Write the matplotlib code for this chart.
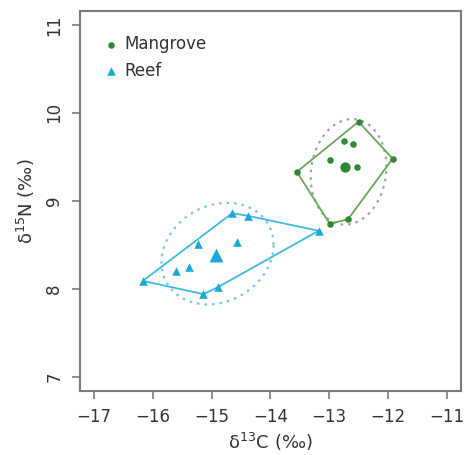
import numpy as np
import matplotlib.pyplot as plt

# isotope values
mangrove_c = [-13.55, -12.50, -11.92, -12.99, -12.68, -12.75, -12.60, -12.98, -12.53]
mangrove_n = [9.33, 9.90, 9.48, 8.74, 8.79, 9.68, 9.65, 9.47, 9.39]
reef_c = [-16.17, -14.65, -14.38, -13.18, -15.14, -14.89, -15.24, -14.56, -15.39, -15.60]
reef_n = [8.09, 8.86, 8.83, 8.66, 7.94, 8.02, 8.51, 8.53, 8.25, 8.20]

# ellipses: centre x, centre y, x half-width, y tilt part, y half-height part
mangrove_ell = [-12.67, 9.33, 0.644, 0.057, 0.598]
reef_ell = [-14.90, 8.40, 0.954, 0.10, 0.569]

col_m = "#2e8a2e"
col_m_line = "#6aa85c"
col_m_ell = "#98ad98"
col_r = "#19a9da"
col_r_line = "#3dbbe6"
col_r_ell = "#7fc8e2"


def hull(x, y):
    pts = sorted(zip(x, y))
    def cross(o, a, b):
        return (a[0]-o[0])*(b[1]-o[1]) - (a[1]-o[1])*(b[0]-o[0])
    lower, upper = [], []
    for p in pts:
        while len(lower) >= 2 and cross(lower[-2], lower[-1], p) <= 0:
            lower.pop()
        lower.append(p)
    for p in reversed(pts):
        while len(upper) >= 2 and cross(upper[-2], upper[-1], p) <= 0:
            upper.pop()
        upper.append(p)
    h = lower[:-1] + upper[:-1]
    h.append(h[0])
    return np.array(h)


def ellipse(e):
    t = np.linspace(0, 2*np.pi, 200)
    return e[0] + e[2]*np.cos(t), e[1] + e[3]*np.cos(t) + e[4]*np.sin(t)


plt.rcParams['font.family'] = 'DejaVu Sans'
fig = plt.figure(figsize=(4.65, 4.55), dpi=100)
ax = fig.add_axes([0.172, 0.141, 0.819, 0.835])

for cx, cy, e, c_pt, c_ln, c_el, mk, s, s_big, lab in [
        (mangrove_c, mangrove_n, mangrove_ell, col_m, col_m_line, col_m_ell, 'o', 22, 55, 'Mangrove'),
        (reef_c, reef_n, reef_ell, col_r, col_r_line, col_r_ell, '^', 38, 100, 'Reef')]:
    h = hull(cx, cy)
    ax.plot(h[:, 0], h[:, 1], color=c_ln, lw=1.3, zorder=2)
    ex, ey = ellipse(e)
    ax.plot(ex, ey, color=c_el, lw=1.6, ls=(0, (1.2, 2.2)), zorder=1)
    ax.scatter(cx, cy, marker=mk, s=s, color=c_pt, lw=0, zorder=3, label=lab)
    ax.scatter(np.mean(cx), np.mean(cy), marker=mk, s=s_big, color=c_pt, lw=0, zorder=3)

ax.set_xlim(-17.24, -10.76)
ax.set_ylim(6.84, 11.16)
ax.set_xticks(range(-17, -10))
ax.set_xticklabels(['\u2212%d' % abs(v) for v in range(-17, -10)])
ax.set_yticks(range(7, 12))
for lbl in ax.get_yticklabels():
    lbl.set_rotation(90)
    lbl.set_va('center')

for sp in ax.spines.values():
    sp.set_color('#7a7a7a')
    sp.set_linewidth(1.5)
ax.tick_params(direction='out', length=6, width=1.2, color='#7a7a7a',
               labelsize=12, labelcolor='#333333', pad=6)

ax.set_xlabel('\u03b4$^{13}$C (\u2030)', fontsize=13, color='#333333', labelpad=4)
ax.set_ylabel('\u03b4$^{15}$N (\u2030)', fontsize=13, color='#333333', labelpad=6)

ax.legend(loc='upper left', bbox_to_anchor=(0.015, 0.975), frameon=False,
          fontsize=12, handletextpad=0.2, labelspacing=0.5, handlelength=1.2,
          labelcolor='#333333')

fig.savefig('out.png', dpi=100)
